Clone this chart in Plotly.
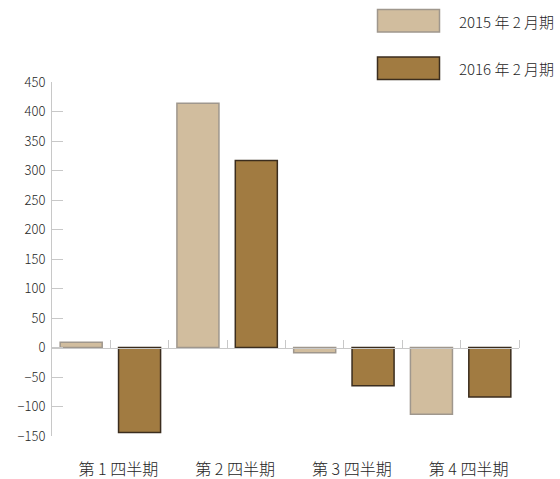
import plotly.graph_objects as go

# Quarterly values for the two fiscal periods
quarters = ["\u2003第 1 四半期", "\u2003第 2 四半期", "\u2003第 3 四半期", "\u2003第 4 四半期"]
fy2015 = [9, 414, -9, -113]
fy2016 = [-144, 317, -65, -84]
series_names = ["2015 年 2 月期", "2016 年 2 月期"]
y_ticks = list(range(-150, 451, 50))

FONT = "Noto Sans CJK JP"
TEXT = "#262626"
WEIGHT = 300
AXIS = "#c8c8c8"
FILL_A, EDGE_A = "#d1bd9e", "#9f978d"
FILL_B, EDGE_B = "#a17b41", "#3b2d1e"

W, H = 560, 479
ML, MR, MT, MB = 52, 41, 82, 43
PW, PH = W - ML - MR, H - MT - MB


def px_x(p):
    return (p - ML) / PW


def px_y(p):
    return (H - MB - p) / PH


fig = go.Figure()
fig.add_trace(go.Bar(x=quarters, y=fy2015, name=series_names[0],
                     marker=dict(color=FILL_A, line=dict(color=EDGE_A, width=1.5))))
fig.add_trace(go.Bar(x=quarters, y=fy2016, name=series_names[1],
                     marker=dict(color=FILL_B, line=dict(color=EDGE_B, width=1.5))))
# helper trace so the zero-line axis gets drawn
fig.add_trace(go.Scatter(x=[None], y=[None], xaxis="x2", showlegend=False,
                         hoverinfo="skip"))

# legend swatches and labels
shapes, annotations = [], []
for i, (name, fill, edge) in enumerate([(series_names[0], FILL_A, EDGE_A),
                                        (series_names[1], FILL_B, EDGE_B)]):
    top = 9.5 + i * 47.5
    shapes.append(dict(type="rect", xref="paper", yref="paper",
                       x0=px_x(377.5), x1=px_x(439.5),
                       y0=px_y(top + 22.5), y1=px_y(top),
                       fillcolor=fill, line=dict(color=edge, width=1.5)))
    annotations.append(dict(xref="paper", yref="paper", x=px_x(457), y=px_y(top + 11.5),
                            text=name, showarrow=False, xanchor="left", yanchor="middle",
                            font=dict(family=FONT, size=15, color=TEXT, weight=WEIGHT)))

fig.update_layout(
    width=W, height=H,
    margin=dict(l=ML, r=MR, t=MT, b=MB, autoexpand=False),
    paper_bgcolor="white", plot_bgcolor="white",
    barmode="group", bargap=0, bargroupgap=0.28,
    showlegend=False,
    font=dict(family=FONT, color=TEXT, weight=WEIGHT),
    shapes=shapes, annotations=annotations,
    xaxis=dict(type="category", range=[-0.5, 3.5], showline=False, ticks="",
               showgrid=False, zeroline=False, automargin=False,
               tickfont=dict(family=FONT, size=16, color=TEXT, weight=WEIGHT),
               ticklabelstandoff=22),
    xaxis2=dict(overlaying="x", anchor="free", position=150 / 600, side="top",
                range=[-0.5, 3.5], showline=True, linecolor=AXIS, linewidth=1,
                ticks="outside", ticklen=8, tickcolor=AXIS, tickwidth=1,
                tickvals=[0, 0.5, 1, 1.5, 2, 2.5, 3, 3.5], automargin=False,
                showticklabels=False, showgrid=False, zeroline=False),
    yaxis=dict(range=[-150, 450], tickvals=y_ticks, showline=True, linecolor=AXIS,
               linewidth=1, ticks="inside", ticklen=11, tickcolor=AXIS, tickwidth=1,
               showgrid=False, zeroline=False, automargin=False, ticklabelstandoff=3,
               tickfont=dict(family=FONT, size=13, color=TEXT, weight=WEIGHT)),
)

fig.write_html("out.html")
